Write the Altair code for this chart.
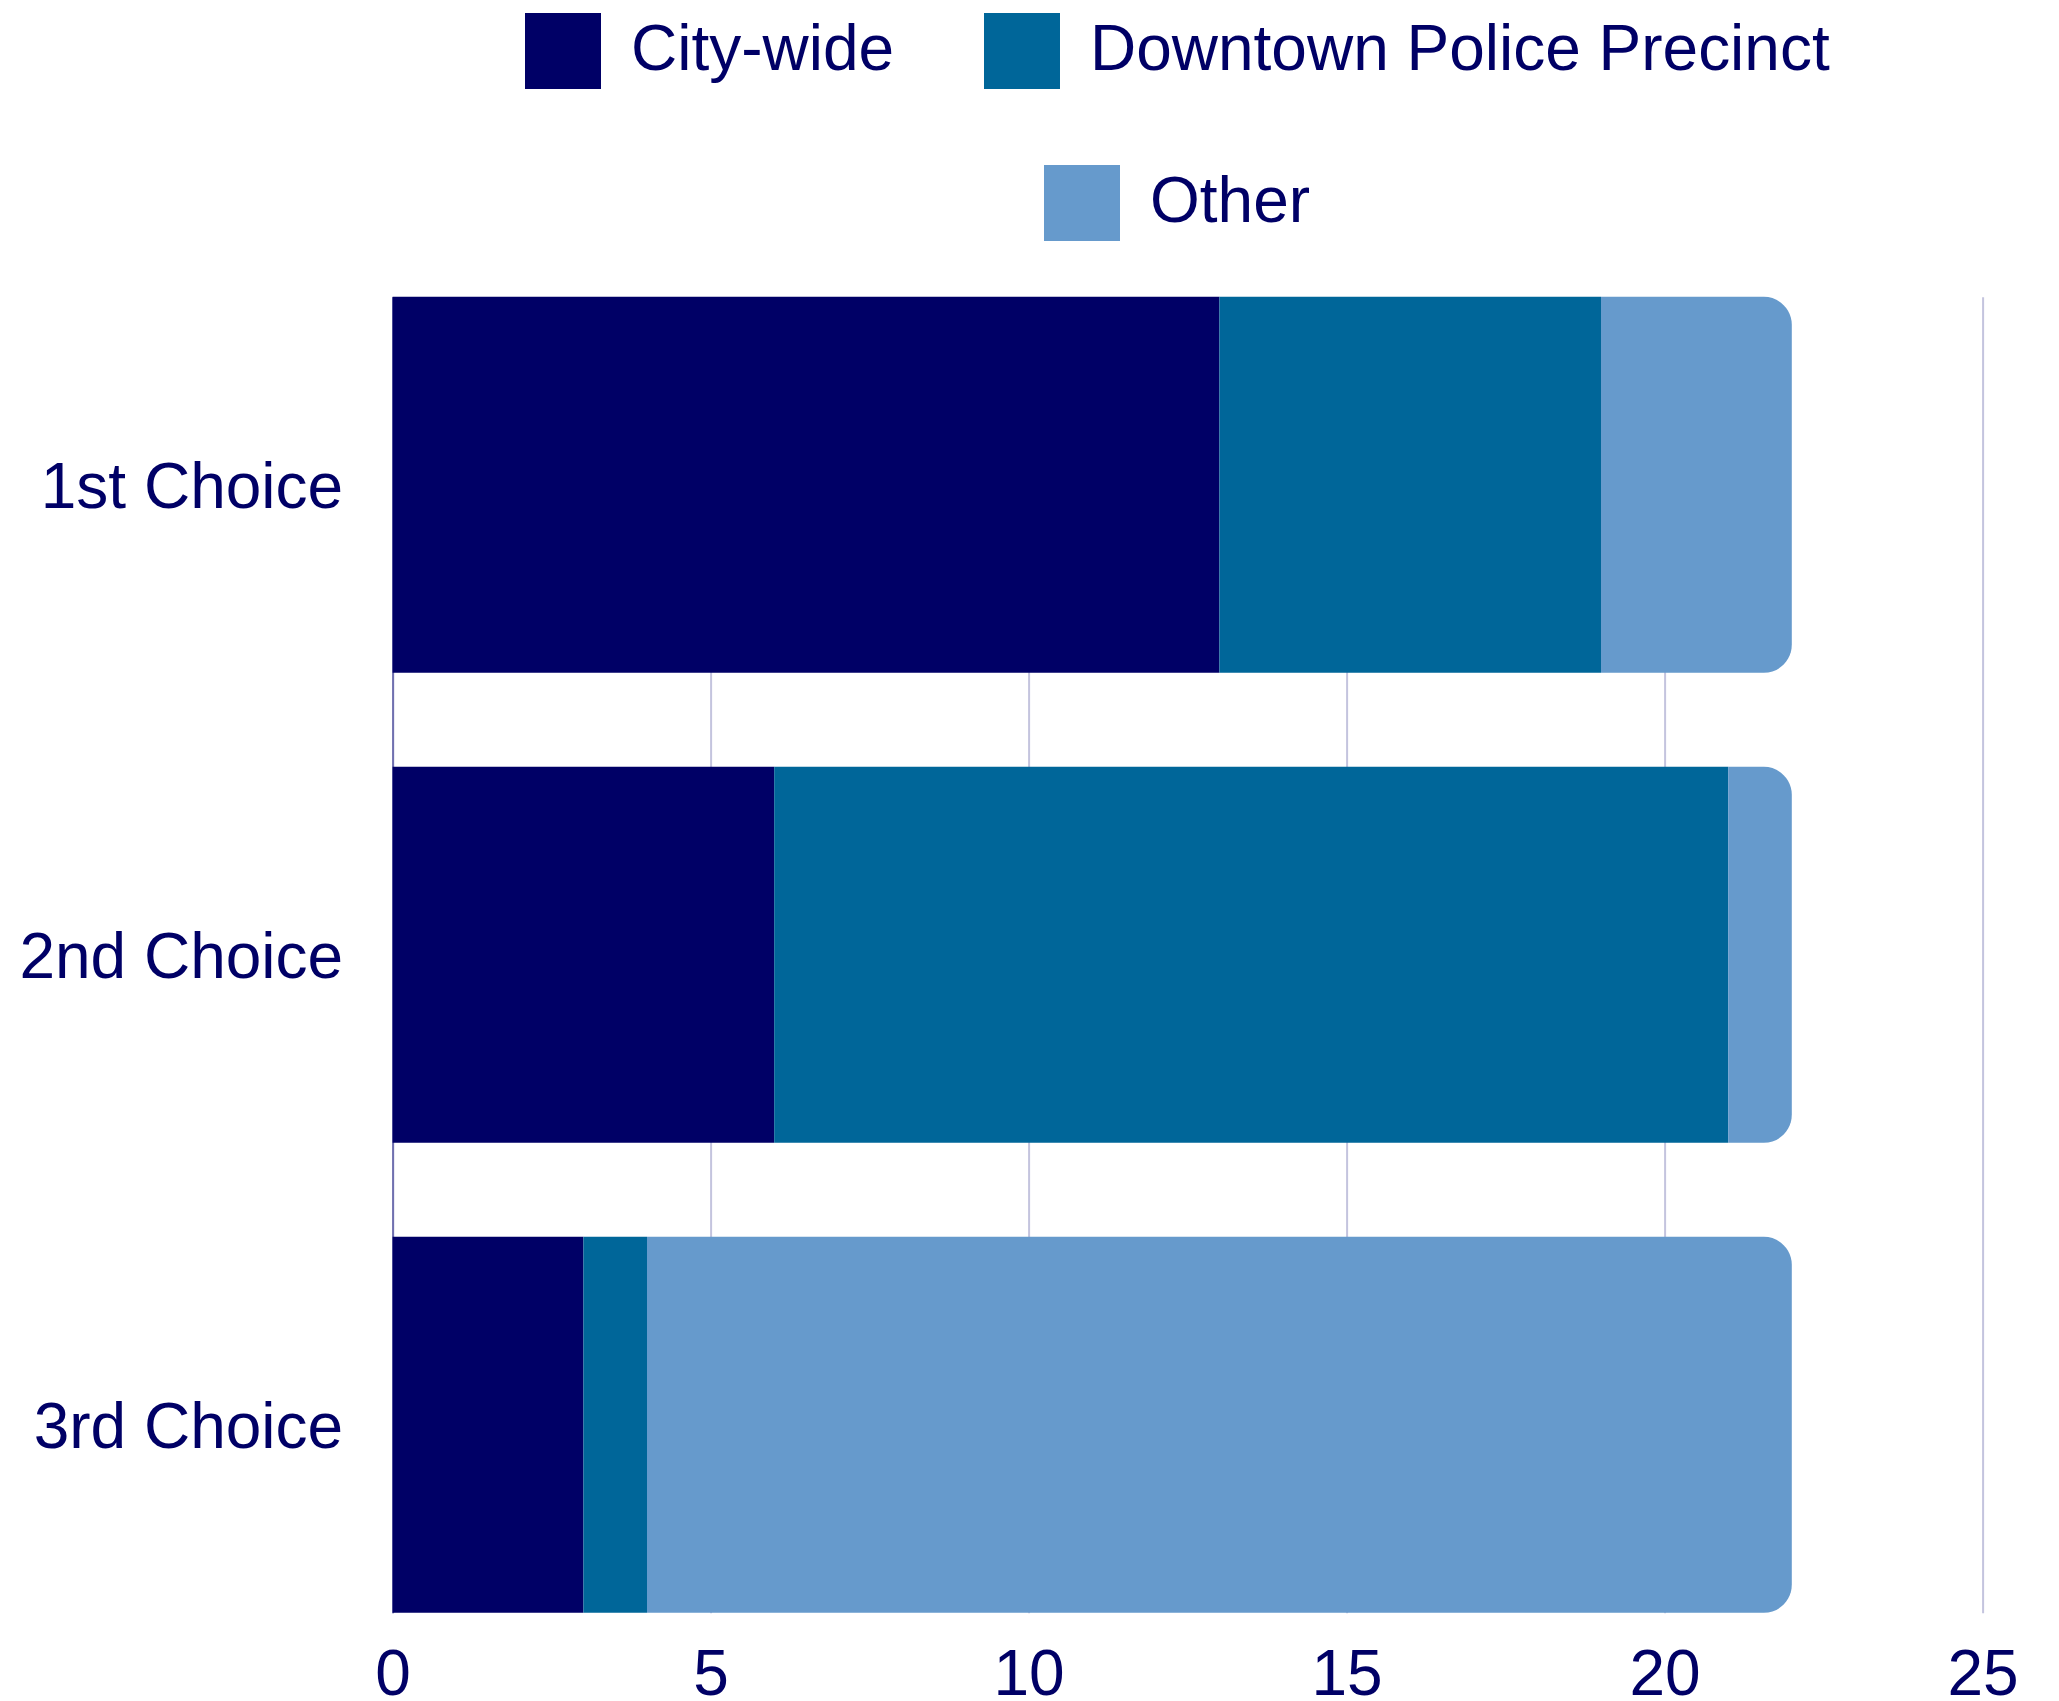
import altair as alt
import pandas as pd

# Survey answers per choice rank, split by where respondents want resources
choices = ["1st Choice", "2nd Choice", "3rd Choice"]
series = ["City-wide", "Downtown Police Precinct", "Other"]
city_wide = [13, 6, 3]
downtown = [6, 15, 1]
other = [3, 1, 18]

colors = ["#000066", "#006699", "#669acc"]
ink = "#000066"
font = "Liberation Sans"

rows = []
for i, c in enumerate(choices):
    for k, (name, vals) in enumerate(zip(series, [city_wide, downtown, other])):
        rows.append({"choice": c, "series": name, "order": k, "value": vals[i]})
df = pd.DataFrame(rows)

base = alt.Chart(df).transform_stack(
    stack="value",
    groupby=["choice"],
    as_=["start", "end"],
    sort=[alt.SortField("order", order="ascending")],
)

x_enc = alt.X(
    "start:Q",
    scale=alt.Scale(domain=[0, 25], nice=False),
    axis=alt.Axis(
        title=None,
        values=[0, 5, 10, 15, 20, 25],
        grid=True,
        gridColor="#c4c4de",
        gridWidth=2,
        ticks=False,
        domain=False,
        labelPadding=31,
        labelFontSize=64,
        labelFlush=False,
        labelLimit=1000,
        labelOverlap=False,
    ),
)
y_enc = alt.Y(
    "choice:N",
    sort=choices,
    scale=alt.Scale(paddingInner=0.2, paddingOuter=0),
    axis=alt.Axis(
        title=None,
        ticks=False,
        grid=False,
        domain=True,
        domainColor="#7070b0",
        domainWidth=2,
        labelPadding=50,
        labelOffset=4,
        labelFontSize=64,
        labelLimit=1000,
    ),
)

legend_common = dict(
    title=None,
    orient="none",
    direction="horizontal",
    symbolType="square",
    symbolSize=76 * 76,
    symbolStrokeWidth=0,
    labelFontSize=64,
    labelFont=font,
    labelColor=ink,
    labelOffset=30,
    labelLimit=1000,
    columnPadding=89,
    padding=0,
)

main_bars = base.transform_filter(alt.datum.series != "Other").mark_bar().encode(
    x=x_enc,
    x2="end:Q",
    y=y_enc,
    color=alt.Color(
        "series:N",
        scale=alt.Scale(domain=series[:2], range=colors[:2]),
        legend=alt.Legend(legendX=132.4, legendY=-283.8, **legend_common),
    ),
)

other_bars = base.transform_filter(alt.datum.series == "Other").mark_bar(
    cornerRadiusTopRight=28, cornerRadiusBottomRight=28
).encode(
    x=x_enc,
    x2="end:Q",
    y=y_enc,
    color=alt.Color(
        "series:N",
        scale=alt.Scale(domain=series[2:], range=colors[2:]),
        legend=alt.Legend(legendX=651.4, legendY=-131.8, **legend_common),
    ),
)

chart = (
    alt.layer(main_bars, other_bars)
    .resolve_scale(color="independent")
    .properties(
        width=1590,
        height=1316,
        autosize=alt.AutoSizeParams(type="none"),
        padding={"left": 392.6, "top": 296.8, "right": 76.4, "bottom": 88.5},
    )
    .configure_view(stroke=None)
    .configure_axis(labelFont=font, labelColor=ink)
)

chart.save("out.html", embed_options={"renderer": "svg", "actions": False})
